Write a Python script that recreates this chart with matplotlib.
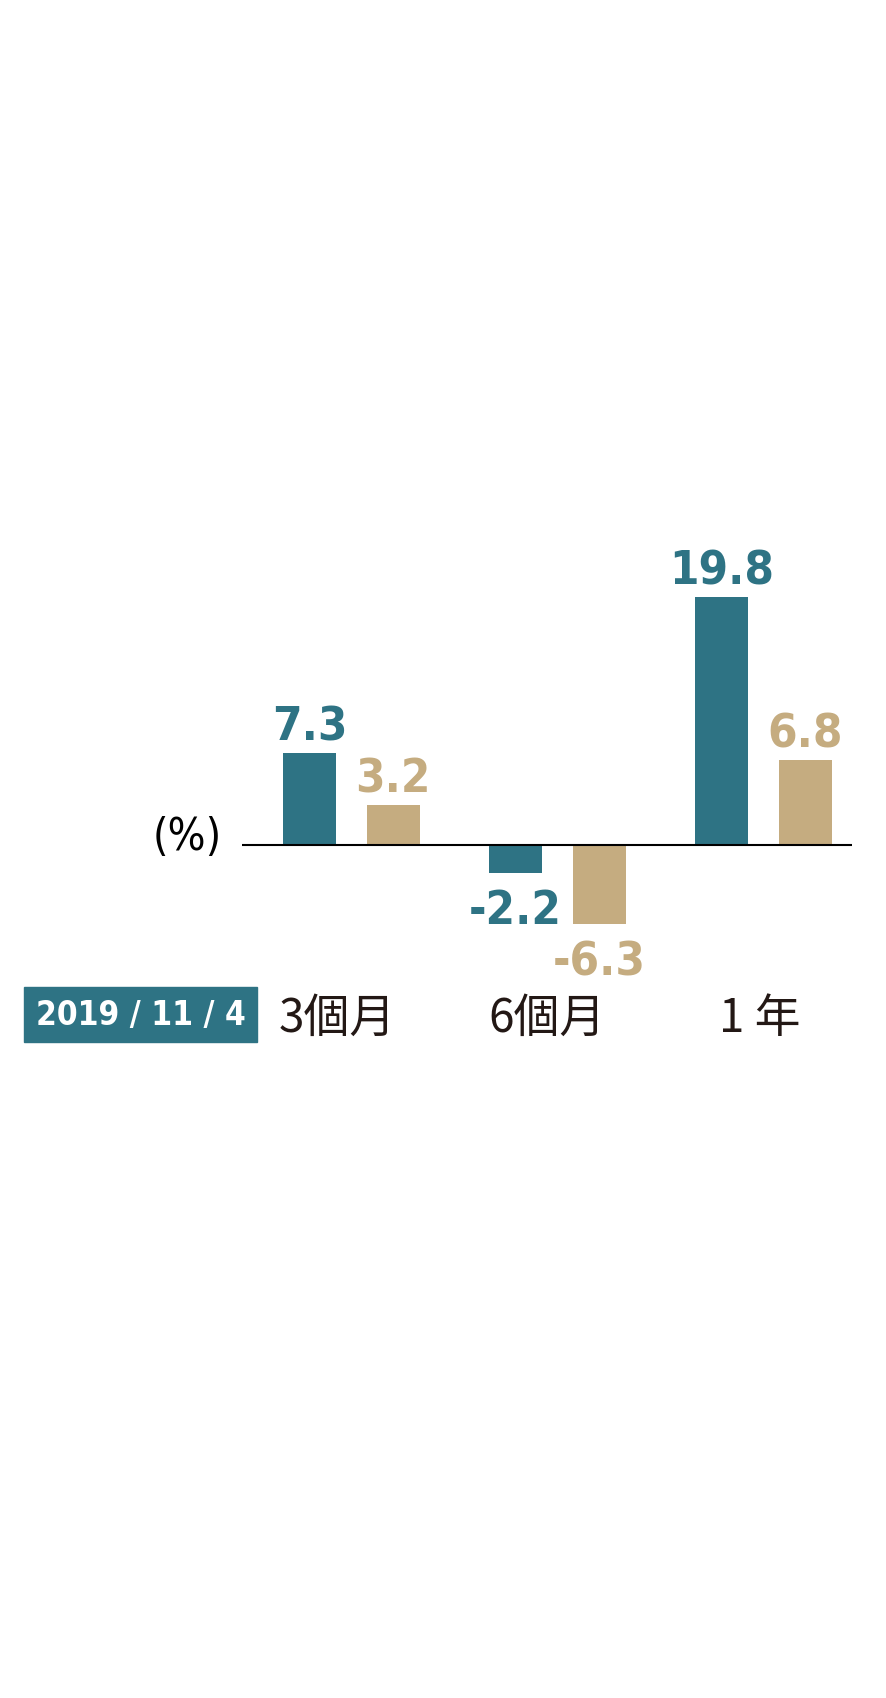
import numpy as np
import matplotlib.pyplot as plt
import matplotlib.transforms as mtransforms
from matplotlib.patches import Rectangle

# data
categories = ['3個月', '6個月', '1 年']
fund = [7.3, -2.2, 19.8]
bench = [3.2, -6.3, 6.8]
date_label = '2019 / 11 / 4'

teal = '#2E7384'
tan = '#C5AC80'
cjk_font = ['Noto Sans CJK TC', 'DejaVu Sans']
num_kw = dict(family='DejaVu Sans', fontstretch='condensed')

W, H = 886, 1698
fig = plt.figure(figsize=(W / 100, H / 100), dpi=100)
fig.patch.set_facecolor('white')

# axes placed in pixel terms (baseline at y=845, 12.54 px per unit)
left, right, top, bottom = 241.5, 852, 560, 960
ax = fig.add_axes([left / W, 1 - bottom / H, (right - left) / W, (bottom - top) / H])
ax.set_xlim(-0.534, 2.43)
ax.set_ylim(-(bottom - 845) / 12.54, (845 - top) / 12.54)
ax.axis('off')

x = np.arange(len(categories))
off = 0.2027
bw = 0.257
ax.bar(x - off, fund, bw, color=teal, zorder=2)
ax.bar(x + off, bench, bw, color=tan, zorder=2)
ax.axhline(0, color='black', lw=1.5, zorder=3)

def label(xp, v, c):
    dy = 9 if v >= 0 else -37
    ax.annotate(f'{v:.1f}', (xp, v), xytext=(0, dy), textcoords='offset points',
                ha='center', va='baseline', fontsize=34, fontweight='bold',
                color=c, **num_kw)

for i in range(len(categories)):
    label(x[i] - off, fund[i], teal)
    label(x[i] + off, bench[i], tan)

# (%) unit
fig.text(187 / W, 1 - 838 / H, '(%)', ha='center', va='center', fontsize=32,
         color='black', **num_kw)

# category labels
trans = mtransforms.blended_transform_factory(ax.transData, fig.transFigure)
shift = [-0.071, -0.053, -0.017]
for i, c in enumerate(categories):
    ax.text(x[i] + shift[i], 1 - 1019 / H, c, transform=trans, ha='center', va='center',
            fontsize=33, fontweight='medium', color='#231815', family=cjk_font,
            clip_on=False)

# date box
fig.patches.append(Rectangle((24 / W, 1 - 1042 / H), 233 / W, 55 / H,
                             transform=fig.transFigure, color=teal, zorder=0))
fig.text(140.5 / W, 1 - 1016 / H, date_label, ha='center', va='center', fontsize=24,
         fontweight='bold', color='white', **num_kw)

fig.savefig('out.png', dpi=100, facecolor='white')
